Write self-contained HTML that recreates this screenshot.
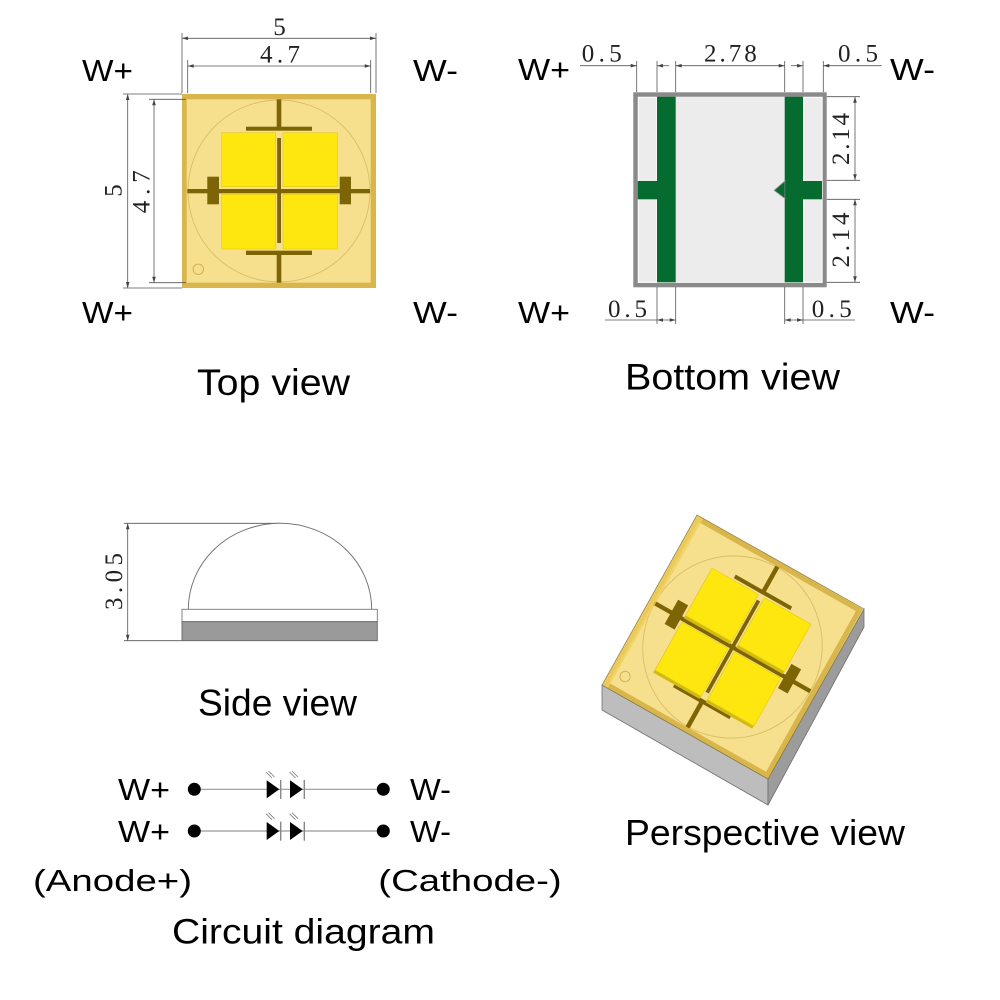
<!DOCTYPE html>
<html>
<head>
<meta charset="utf-8">
<style>
  html,body{margin:0;padding:0;background:#fff;}
  svg{display:block;}
  .t{font-family:"Liberation Sans",Arial,sans-serif;fill:#000;}
  .d{font-family:"Liberation Serif","Times New Roman",serif;fill:#222;}
  .dl{stroke:#555;stroke-width:0.8;fill:none;}
</style>
</head>
<body>
<svg width="1000" height="1000" viewBox="0 0 1000 1000" xmlns="http://www.w3.org/2000/svg">
  <defs>
    <marker id="ar" viewBox="0 0 10 6" refX="10" refY="3" markerWidth="7" markerHeight="3.6" markerUnits="userSpaceOnUse" orient="auto-start-reverse">
      <path d="M0,0 L10,3 L0,6 z" fill="#444"/>
    </marker>
    <g id="base">
      <rect x="182" y="94" width="194" height="194" fill="#d8b64c"/>
      <rect x="186.7" y="99.3" width="184" height="183.4" fill="#f6df8d"/>
      <circle cx="279" cy="191" r="91" fill="none" stroke="#d9be6a" stroke-width="0.9"/>
      <circle cx="198.3" cy="269.3" r="5.2" fill="none" stroke="#cfae52" stroke-width="0.9"/>
      <g fill="#7d6404">
        <rect x="276.7" y="99.3" width="4.6" height="28"/>
        <rect x="246" y="126.7" width="66" height="4"/>
        <rect x="277.2" y="138" width="3.8" height="105"/>
        <rect x="246" y="250.7" width="66" height="4.3"/>
        <rect x="276.7" y="254" width="4.6" height="28.7"/>
        <rect x="187.3" y="189" width="182.7" height="4.3"/>
        <rect x="207.3" y="176.7" width="11.7" height="27.6"/>
        <rect x="339.7" y="176.7" width="11.3" height="27.6"/>
      </g>
    </g>
    <g id="chips">
      <rect x="221.7" y="132.7" width="54" height="54"/>
      <rect x="283" y="132.7" width="54.3" height="54"/>
      <rect x="221.7" y="194.3" width="54" height="54.7"/>
      <rect x="283" y="194.3" width="54.3" height="54.7"/>
    </g>
  </defs>

  <!-- ================= TOP VIEW ================= -->
  <use href="#base"/>
  <use href="#chips" fill="#fde70f" stroke="#e3c81e" stroke-width="0.6"/>

  <line class="dl" x1="182" y1="33" x2="182" y2="93"/>
  <line class="dl" x1="376" y1="33" x2="376" y2="93"/>
  <line class="dl" x1="182" y1="38.3" x2="376" y2="38.3" marker-start="url(#ar)" marker-end="url(#ar)"/>
  <line class="dl" x1="187.7" y1="60" x2="187.7" y2="93"/>
  <line class="dl" x1="370.7" y1="60" x2="370.7" y2="93"/>
  <line class="dl" x1="187.7" y1="66" x2="370.7" y2="66" marker-start="url(#ar)" marker-end="url(#ar)"/>
  <text class="d" x="279.5" y="35" font-size="25" text-anchor="middle">5</text>
  <text class="d" x="280" y="62.3" font-size="25" text-anchor="middle" textLength="40" lengthAdjust="spacing">4.7</text>

  <line class="dl" x1="123" y1="94" x2="182" y2="94"/>
  <line class="dl" x1="123" y1="288" x2="182" y2="288"/>
  <line class="dl" x1="127.7" y1="94" x2="127.7" y2="288" marker-start="url(#ar)" marker-end="url(#ar)"/>
  <line class="dl" x1="149" y1="99.3" x2="186" y2="99.3"/>
  <line class="dl" x1="149" y1="282.7" x2="186" y2="282.7"/>
  <line class="dl" x1="154" y1="99.3" x2="154" y2="282.7" marker-start="url(#ar)" marker-end="url(#ar)"/>
  <text class="d" x="114" y="190.5" font-size="25" text-anchor="middle" dominant-baseline="central" transform="rotate(-90 114 190.5)">5</text>
  <text class="d" x="142" y="191.7" font-size="25" text-anchor="middle" dominant-baseline="central" textLength="43" lengthAdjust="spacing" transform="rotate(-90 142 191.7)">4.7</text>

  <text class="t" x="82" y="81" font-size="31" textLength="51" lengthAdjust="spacingAndGlyphs">W+</text>
  <text class="t" x="413" y="81" font-size="31" textLength="45" lengthAdjust="spacingAndGlyphs">W-</text>
  <text class="t" x="82" y="323" font-size="31" textLength="51" lengthAdjust="spacingAndGlyphs">W+</text>
  <text class="t" x="413" y="323" font-size="31" textLength="45" lengthAdjust="spacingAndGlyphs">W-</text>

  <text class="t" x="197" y="395" font-size="37" textLength="153" lengthAdjust="spacingAndGlyphs">Top view</text>

  <!-- ================= BOTTOM VIEW ================= -->
  <rect x="633.3" y="92.3" width="193.4" height="195" fill="#8a8a8a"/>
  <rect x="637.7" y="96.7" width="185" height="186.3" fill="#ececec"/>
  <rect x="638.5" y="97.5" width="18" height="184.7" fill="none" stroke="#fafafa" stroke-width="1"/>
  <rect x="804" y="97.5" width="18" height="184.7" fill="none" stroke="#fafafa" stroke-width="1"/>
  <g fill="#066b2f">
    <rect x="657" y="96.7" width="18.7" height="185.6"/>
    <rect x="637.7" y="181" width="19.5" height="18.3"/>
    <rect x="784.7" y="96.7" width="18.3" height="185.6"/>
    <rect x="802.5" y="181" width="19.5" height="18.3"/>
    <polygon points="785,181 774.3,190.3 785,198.5" stroke="#8a8a8a" stroke-width="0.9"/>
  </g>
  <rect x="785.2" y="182" width="2" height="16" fill="#066b2f"/>

  <line class="dl" x1="636.7" y1="61" x2="636.7" y2="92"/>
  <line class="dl" x1="657" y1="61" x2="657" y2="92"/>
  <line class="dl" x1="675.7" y1="61" x2="675.7" y2="92"/>
  <line class="dl" x1="784.7" y1="61" x2="784.7" y2="92"/>
  <line class="dl" x1="803" y1="61" x2="803" y2="92"/>
  <line class="dl" x1="823.3" y1="61" x2="823.3" y2="92"/>
  <line class="dl" x1="580" y1="65.7" x2="636.7" y2="65.7" marker-end="url(#ar)"/>
  <line class="dl" x1="669" y1="65.7" x2="657" y2="65.7" marker-end="url(#ar)"/>
  <line class="dl" x1="675.7" y1="65.7" x2="784.7" y2="65.7" marker-start="url(#ar)" marker-end="url(#ar)"/>
  <line class="dl" x1="791" y1="65.7" x2="803" y2="65.7" marker-end="url(#ar)"/>
  <line class="dl" x1="881.7" y1="65.7" x2="823.3" y2="65.7" marker-end="url(#ar)"/>
  <text class="d" x="581.7" y="61.7" font-size="25" textLength="40" lengthAdjust="spacing">0.5</text>
  <text class="d" x="704" y="61.7" font-size="25" textLength="52.7" lengthAdjust="spacing">2.78</text>
  <text class="d" x="838" y="61.7" font-size="25" textLength="40" lengthAdjust="spacing">0.5</text>

  <line class="dl" x1="826.7" y1="96.7" x2="860" y2="96.7"/>
  <line class="dl" x1="826.7" y1="180.3" x2="860" y2="180.3"/>
  <line class="dl" x1="826.7" y1="199.3" x2="860" y2="199.3"/>
  <line class="dl" x1="826.7" y1="282.3" x2="860" y2="282.3"/>
  <line class="dl" x1="855" y1="96.7" x2="855" y2="180.3" marker-start="url(#ar)" marker-end="url(#ar)"/>
  <line class="dl" x1="855" y1="199.3" x2="855" y2="282.3" marker-start="url(#ar)" marker-end="url(#ar)"/>
  <text class="d" x="841.7" y="139" font-size="25" text-anchor="middle" dominant-baseline="central" textLength="52" lengthAdjust="spacing" transform="rotate(-90 841.7 139)">2.14</text>
  <text class="d" x="841.7" y="240" font-size="25" text-anchor="middle" dominant-baseline="central" textLength="55" lengthAdjust="spacing" transform="rotate(-90 841.7 240)">2.14</text>

  <line class="dl" x1="657" y1="287" x2="657" y2="324"/>
  <line class="dl" x1="675.7" y1="287" x2="675.7" y2="324"/>
  <line class="dl" x1="784.7" y1="287" x2="784.7" y2="324"/>
  <line class="dl" x1="803" y1="287" x2="803" y2="324"/>
  <line class="dl" x1="605" y1="320" x2="657" y2="320"/>
  <line class="dl" x1="657" y1="320" x2="675.7" y2="320" marker-start="url(#ar)" marker-end="url(#ar)"/>
  <line class="dl" x1="784.7" y1="320" x2="803" y2="320" marker-start="url(#ar)" marker-end="url(#ar)"/>
  <line class="dl" x1="803" y1="320" x2="855" y2="320"/>
  <text class="d" x="608" y="317" font-size="25" textLength="39" lengthAdjust="spacing">0.5</text>
  <text class="d" x="811.7" y="317" font-size="25" textLength="40" lengthAdjust="spacing">0.5</text>

  <text class="t" x="518" y="80" font-size="31" textLength="52" lengthAdjust="spacingAndGlyphs">W+</text>
  <text class="t" x="890" y="80" font-size="31" textLength="45" lengthAdjust="spacingAndGlyphs">W-</text>
  <text class="t" x="518" y="323" font-size="31" textLength="52" lengthAdjust="spacingAndGlyphs">W+</text>
  <text class="t" x="890" y="323" font-size="31" textLength="45" lengthAdjust="spacingAndGlyphs">W-</text>

  <text class="t" x="625" y="389.3" font-size="37" textLength="215" lengthAdjust="spacingAndGlyphs">Bottom view</text>

  <!-- ================= SIDE VIEW ================= -->
  <line class="dl" x1="124" y1="523.3" x2="280" y2="523.3"/>
  <line class="dl" x1="124" y1="640.7" x2="182" y2="640.7"/>
  <line class="dl" x1="127.7" y1="523.3" x2="127.7" y2="640.7" marker-start="url(#ar)" marker-end="url(#ar)"/>
  <path d="M188.3,609.3 A91.7,86 0 0 1 371.7,609.3" fill="#fff" stroke="#777" stroke-width="1"/>
  <rect x="182" y="609.3" width="195.3" height="12.4" fill="#fff" stroke="#777" stroke-width="0.9"/>
  <rect x="182" y="621.7" width="195.3" height="19" fill="#9a9a9a" stroke="#666" stroke-width="0.9"/>
  <text class="d" x="114.5" y="581.5" font-size="25" text-anchor="middle" dominant-baseline="central" textLength="57" lengthAdjust="spacing" transform="rotate(-90 114.5 581.5)">3.05</text>

  <text class="t" x="198" y="715.7" font-size="37" textLength="159" lengthAdjust="spacingAndGlyphs">Side view</text>

  <!-- ================= PERSPECTIVE VIEW ================= -->
  <polygon points="602,685 768,779 768,805 602,710" fill="#bdbdbd" stroke="#6e6e6e" stroke-width="0.8"/>
  <polygon points="768,779 864,609 864,627 768,805" fill="#9c9c9c" stroke="#6e6e6e" stroke-width="0.8"/>
  <use href="#base" transform="matrix(0.8557 0.4845 -0.4897 0.8763 587.29 344.45)"/>
  <polygon points="602,685 697,515 703,519 608,688" fill="#f0d060" opacity="0.8"/>
  <g transform="translate(-1.8 2.6)">
    <use href="#chips" fill="#d2bb10" transform="matrix(0.8557 0.4845 -0.4897 0.8763 587.29 344.45)"/>
  </g>
  <use href="#chips" fill="#fde70f" stroke="#e3c81e" stroke-width="0.6" transform="matrix(0.8557 0.4845 -0.4897 0.8763 587.29 344.45)"/>
  <polygon points="602,685 697,515 864,609 768,779" fill="none" stroke="#8a7a40" stroke-width="0.7"/>

  <text class="t" x="625" y="845" font-size="36" textLength="280" lengthAdjust="spacingAndGlyphs">Perspective view</text>

  <!-- ================= CIRCUIT DIAGRAM ================= -->
  <g>
    <line x1="194.3" y1="789.3" x2="383.3" y2="789.3" stroke="#999" stroke-width="1.2"/>
    <circle cx="194.3" cy="789.3" r="6.5" fill="#000"/>
    <circle cx="383.3" cy="789.3" r="6.5" fill="#000"/>
    <polygon points="266.7,780.3 266.7,798.3 279.3,789.3" fill="#000"/>
    <line x1="280.7" y1="780" x2="280.7" y2="799" stroke="#888" stroke-width="1.4"/>
    <polygon points="290,780.3 290,798.3 302.7,789.3" fill="#000"/>
    <line x1="304.3" y1="780" x2="304.3" y2="799" stroke="#888" stroke-width="1.4"/>
    <g stroke="#777" stroke-width="0.8">
      <line x1="266" y1="772" x2="272" y2="778"/><line x1="268.5" y1="771" x2="274.5" y2="777"/>
      <line x1="289.5" y1="772" x2="295.5" y2="778"/><line x1="292" y1="771" x2="298" y2="777"/>
    </g>

    <line x1="194.3" y1="831" x2="383.3" y2="831" stroke="#999" stroke-width="1.2"/>
    <circle cx="194.3" cy="831" r="6.5" fill="#000"/>
    <circle cx="383.3" cy="831" r="6.5" fill="#000"/>
    <polygon points="266.7,822 266.7,840 279.3,831" fill="#000"/>
    <line x1="280.7" y1="821.7" x2="280.7" y2="840.7" stroke="#888" stroke-width="1.4"/>
    <polygon points="290,822 290,840 302.7,831" fill="#000"/>
    <line x1="304.3" y1="821.7" x2="304.3" y2="840.7" stroke="#888" stroke-width="1.4"/>
    <g stroke="#777" stroke-width="0.8">
      <line x1="266" y1="813.7" x2="272" y2="819.7"/><line x1="268.5" y1="812.7" x2="274.5" y2="818.7"/>
      <line x1="289.5" y1="813.7" x2="295.5" y2="819.7"/><line x1="292" y1="812.7" x2="298" y2="818.7"/>
    </g>
  </g>
  <text class="t" x="118" y="800" font-size="31" textLength="52" lengthAdjust="spacingAndGlyphs">W+</text>
  <text class="t" x="410" y="800" font-size="31" textLength="41" lengthAdjust="spacingAndGlyphs">W-</text>
  <text class="t" x="118" y="842" font-size="31" textLength="52" lengthAdjust="spacingAndGlyphs">W+</text>
  <text class="t" x="410" y="842" font-size="31" textLength="41" lengthAdjust="spacingAndGlyphs">W-</text>

  <text class="t" x="33" y="891" font-size="31" textLength="159" lengthAdjust="spacingAndGlyphs">(Anode+)</text>
  <text class="t" x="378.3" y="891" font-size="31" textLength="183.4" lengthAdjust="spacingAndGlyphs">(Cathode-)</text>
  <text class="t" x="172" y="943.3" font-size="35" textLength="263" lengthAdjust="spacingAndGlyphs">Circuit diagram</text>
</svg>
</body>
</html>
